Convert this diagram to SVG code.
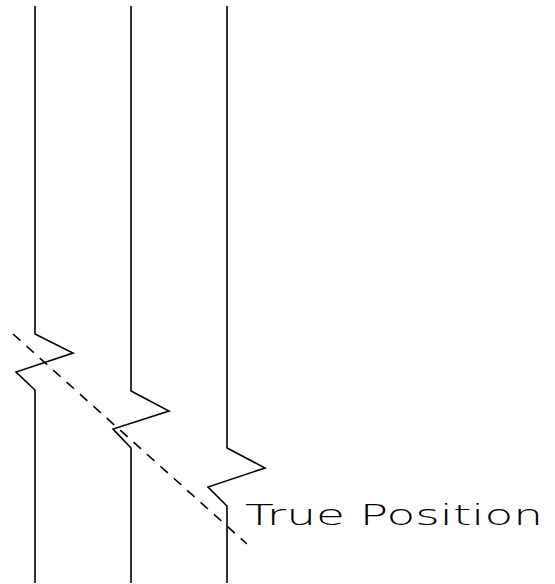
<svg xmlns="http://www.w3.org/2000/svg" width="555" height="584" viewBox="0 0 555 584">
<style>
.ln{fill:none;stroke:#000;stroke-width:1.6;stroke-linejoin:miter}
.dash{fill:none;stroke:#000;stroke-width:1.6;stroke-dasharray:10 8}
.lbl{font-family:"DejaVu Sans","Liberation Sans",sans-serif;font-size:28px;fill:#000;font-weight:300}
</style>
<rect width="555" height="584" fill="#fff"/>
<g id="connectors">
<path class="dash" d="M13,334 L247,544"/>
</g>
<g id="line1"><path class="ln" d="M35,6 L35,334 L73,353 L16,372 L35,390 L35,583"/></g>
<g id="line2"><path class="ln" d="M131,6 L131,391 L169,411 L113,429 L131,448 L131,583"/></g>
<g id="line3"><path class="ln" d="M227,6 L227,448 L265,468 L208,487 L227,506 L227,583"/></g>
<g id="label"><text class="lbl" x="245" y="525" textLength="298" lengthAdjust="spacingAndGlyphs">True Position</text></g>
</svg>
